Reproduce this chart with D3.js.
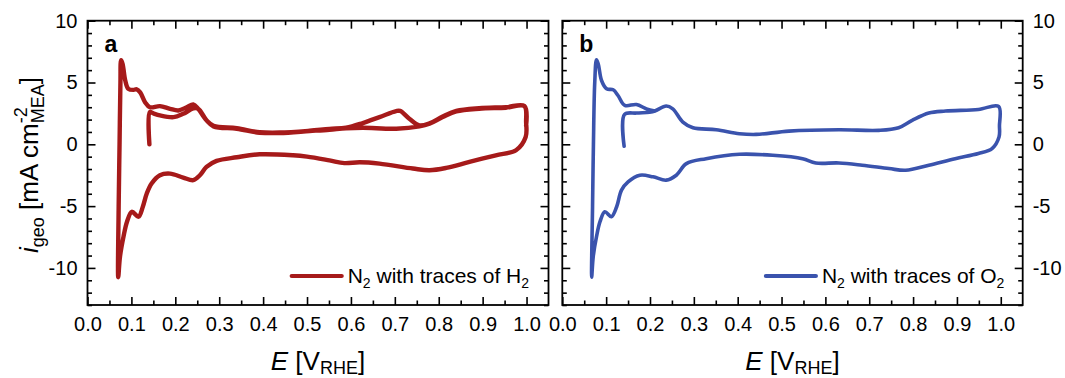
<!DOCTYPE html>
<html>
<head>
<meta charset="utf-8">
<script src="https://cdn.jsdelivr.net/npm/d3@7"></script>
<style>
  html, body { margin: 0; padding: 0; background: #fff; }
  svg { display: block; font-family: "Liberation Sans", Arial, sans-serif; }
</style>
</head>
<body>
<svg id="chart" width="1065" height="378"></svg>
<script>
// ---- data ----
const xTicks = [0.0, 0.1, 0.2, 0.3, 0.4, 0.5, 0.6, 0.7, 0.8, 0.9, 1.0];
const yTicks = [-10, -5, 0, 5, 10];
const panelLabels = ["a", "b"];
const seriesNames = ["N2 with traces of H2", "N2 with traces of O2"];

// panel a: N2 with traces of H2  (E in V_RHE, i in mA cm^-2)
const h2Potential = [
  0.141, 0.142, 0.150, 0.165, 0.196, 0.218, 0.241, 0.252, 0.271, 0.287, 0.340, 0.392, 0.438, 0.506, 0.551, 0.589, 0.627, 0.703, 0.756, 0.779, 0.809, 0.840, 0.892, 0.953, 0.995, 0.999, 0.998,
  0.976, 0.930, 0.870, 0.817, 0.779, 0.741, 0.665, 0.620, 0.585, 0.551, 0.500, 0.468, 0.392, 0.340, 0.294, 0.271, 0.256, 0.241, 0.218, 0.188, 0.165, 0.146, 0.135, 0.126, 0.116, 0.101, 0.090, 0.082, 0.074, 0.070,
  0.071, 0.073, 0.075, 0.0766, 0.080, 0.086, 0.093, 0.105, 0.112, 0.120, 0.131, 0.142, 0.165, 0.188, 0.207, 0.226, 0.241, 0.252, 0.271, 0.287, 0.340, 0.392, 0.438, 0.506, 0.551, 0.589, 0.627, 0.665, 0.703, 0.712, 0.733, 0.756, 0.779, 0.809, 0.840, 0.892, 0.953, 0.995, 0.999
];
const h2Current = [
  0.0, 2.60, 2.50, 2.34, 2.20, 2.47, 2.90, 2.88, 1.94, 1.45, 1.26, 0.94, 0.91, 1.07, 1.18, 1.30, 1.34, 1.26, 1.45, 1.67, 2.20, 2.66, 2.88, 2.96, 3.09, 1.80, 0.59,
  -0.48, -0.89, -1.42, -1.91, -2.10, -1.96, -1.56, -1.45, -1.52, -1.30, -1.00, -0.89, -0.81, -1.05, -1.34, -1.83, -2.50, -2.90, -2.69, -2.37, -2.50, -3.17, -3.98, -5.05, -5.86, -5.46, -6.26, -7.47, -9.09, -10.75,
  -5.0, 0.0, 5.0, 6.80, 6.50, 5.16, 4.49, 4.40, 4.45, 4.20, 3.41, 3.00, 3.09, 2.87, 2.74, 3.00, 3.22, 2.87, 1.94, 1.50, 1.30, 0.98, 0.95, 1.10, 1.25, 1.34, 1.72, 2.20, 2.69, 2.70, 2.07, 1.53, 1.70, 2.25, 2.70, 2.92, 3.00, 3.10, 1.50
];

// panel b: N2 with traces of O2
const o2Potential = [
  0.141, 0.142, 0.169, 0.199, 0.211, 0.237, 0.252, 0.275, 0.298, 0.351, 0.404, 0.442, 0.517, 0.631, 0.722, 0.767, 0.798, 0.836, 0.874, 0.949, 0.995, 0.997, 0.996,
  0.980, 0.949, 0.896, 0.836, 0.783, 0.745, 0.684, 0.631, 0.578, 0.548, 0.480, 0.404, 0.328, 0.283, 0.260, 0.237, 0.207, 0.177, 0.150, 0.135, 0.124, 0.112, 0.097, 0.086, 0.078, 0.0705, 0.067,
  0.069, 0.071, 0.074, 0.078, 0.082, 0.0895, 0.101, 0.116, 0.127, 0.1425, 0.169, 0.192, 0.211
];
const o2Current = [
  -0.16, 2.42, 2.53, 2.60, 2.69, 3.10, 2.87, 1.80, 1.34, 1.18, 0.86, 0.80, 1.07, 1.18, 1.13, 1.34, 1.94, 2.53, 2.69, 2.82, 3.06, 1.50, 0.59,
  -0.35, -0.75, -1.16, -1.69, -2.10, -1.96, -1.69, -1.51, -1.51, -1.16, -0.89, -0.81, -1.16, -1.56, -2.50, -2.90, -2.63, -2.50, -3.04, -3.71, -5.05, -5.86, -5.46, -6.26, -7.47, -9.09, -10.75,
  -5.0, 0.0, 5.0, 6.83, 6.50, 5.16, 4.49, 4.41, 3.95, 3.15, 3.22, 2.87, 2.69
];

const colors = ["#a61a1a", "#3a53ad"];

// ---- layout ----
const svg = d3.select("#chart");
const panels = [
  { left: 87.5, top: 20.7, width: 461, height: 284.3, E: h2Potential, I: h2Current, color: colors[0], lw: 4.4, labelSide: "left", name: seriesNames[0] },
  { left: 562.3, top: 20.7, width: 460.4, height: 284.3, E: o2Potential, I: o2Current, color: colors[1], lw: 3.6, labelSide: "right", name: seriesNames[1] }
];

const minorX = d3.range(0.05, 1.05, 0.1);
const minorY = d3.range(-13, 11, 1).filter(v => v % 5 !== 0);

panels.forEach((p, k) => {
  const g = svg.append("g").attr("transform", `translate(${p.left},${p.top})`);
  const x = d3.scaleLinear().domain([0, 1.05]).range([0, p.width]);
  const y = d3.scaleLinear().domain([-13, 10]).range([p.height, 0]);

  const styleAxis = sel => {
    sel.select(".domain").remove();
    sel.selectAll("line").attr("stroke", "#000").attr("stroke-width", 1.6);
    sel.selectAll("text").attr("fill", "#000").attr("font-size", 20).attr("font-family", "Liberation Sans, Arial, sans-serif");
  };

  // bottom axis (labels)
  g.append("g").attr("transform", `translate(0,${p.height})`)
    .call(d3.axisBottom(x).tickValues(xTicks).tickSize(-8).tickPadding(12).tickFormat(d => d.toFixed(1)))
    .call(styleAxis);
  g.append("g").attr("transform", `translate(0,${p.height})`)
    .call(d3.axisBottom(x).tickValues(minorX).tickSize(-4.5).tickFormat(""))
    .call(styleAxis);
  // top axis
  g.append("g")
    .call(d3.axisTop(x).tickValues(xTicks).tickSize(-8).tickFormat(""))
    .call(styleAxis);
  g.append("g")
    .call(d3.axisTop(x).tickValues(minorX).tickSize(-4.5).tickFormat(""))
    .call(styleAxis);
  // left axis
  g.append("g")
    .call(d3.axisLeft(y).tickValues(yTicks).tickSize(-8).tickPadding(10)
      .tickFormat(p.labelSide === "left" ? (d => String(d)) : ""))
    .call(styleAxis);
  g.append("g")
    .call(d3.axisLeft(y).tickValues(minorY).tickSize(-4.5).tickFormat(""))
    .call(styleAxis);
  // right axis
  g.append("g").attr("transform", `translate(${p.width},0)`)
    .call(d3.axisRight(y).tickValues(yTicks).tickSize(-8).tickPadding(10)
      .tickFormat(p.labelSide === "right" ? (d => String(d)) : ""))
    .call(styleAxis);
  g.append("g").attr("transform", `translate(${p.width},0)`)
    .call(d3.axisRight(y).tickValues(minorY).tickSize(-4.5).tickFormat(""))
    .call(styleAxis);

  // data line
  const pts = p.E.map((e, i) => [e, p.I[i]]);
  const line = d3.line().x(d => x(d[0])).y(d => y(d[1])).curve(d3.curveCatmullRom.alpha(0.5));
  g.append("path").datum(pts)
    .attr("d", line)
    .attr("fill", "none")
    .attr("stroke", p.color)
    .attr("stroke-width", p.lw)
    .attr("stroke-linejoin", "round")
    .attr("stroke-linecap", "round");

  // frame
  g.append("rect").attr("x", 0).attr("y", 0).attr("width", p.width).attr("height", p.height)
    .attr("fill", "none").attr("stroke", "#000").attr("stroke-width", 1.8);

  // panel label
  g.append("text").attr("x", 17).attr("y", 31.5)
    .attr("font-size", 23).attr("font-weight", "bold").attr("fill", "#000")
    .text(panelLabels[k]);

  // legend
  const lg = g.append("g").attr("transform", `translate(${p.width - 256.8},${255.3})`);
  lg.append("line").attr("x1", 0).attr("x2", 50).attr("y1", 0).attr("y2", 0)
    .attr("stroke", p.color).attr("stroke-width", 4.2).attr("stroke-linecap", "round");
  const gasSym = k === 0 ? "H" : "O";
  const lt = lg.append("text").attr("x", 56).attr("y", 7.3).attr("font-size", 21).attr("fill", "#000");
  lt.append("tspan").text("N");
  lt.append("tspan").attr("font-size", 14).attr("dy", 5).text("2");
  lt.append("tspan").attr("dy", -5).text(` with traces of ${gasSym}`);
  lt.append("tspan").attr("font-size", 14).attr("dy", 5).text("2");

  // x axis title
  const xt = g.append("text").attr("x", p.width / 2).attr("y", 349.3)
    .attr("text-anchor", "middle").attr("font-size", 26).attr("fill", "#000");
  xt.append("tspan").attr("font-style", "italic").text("E");
  xt.append("tspan").text(" [V");
  xt.append("tspan").attr("font-size", 18).attr("dy", 4.5).text("RHE");
  xt.append("tspan").attr("dy", -4.5).text("]");
});

// y axis title (left)
const yt = svg.append("text").attr("transform", "translate(38,165) rotate(-90)")
  .attr("text-anchor", "middle").attr("font-size", 26).attr("fill", "#000");
yt.append("tspan").attr("font-style", "italic").text("i");
yt.append("tspan").attr("font-size", 18).attr("dy", 6).text("geo");
yt.append("tspan").attr("dy", -6).text(" [mA cm");
yt.append("tspan").attr("font-size", 18).attr("dy", -11).text("-2");
yt.append("tspan").attr("font-size", 18).attr("dx", -16).attr("dy", 17).text("MEA");
yt.append("tspan").attr("dy", -6).text("]");
</script>
</body>
</html>
